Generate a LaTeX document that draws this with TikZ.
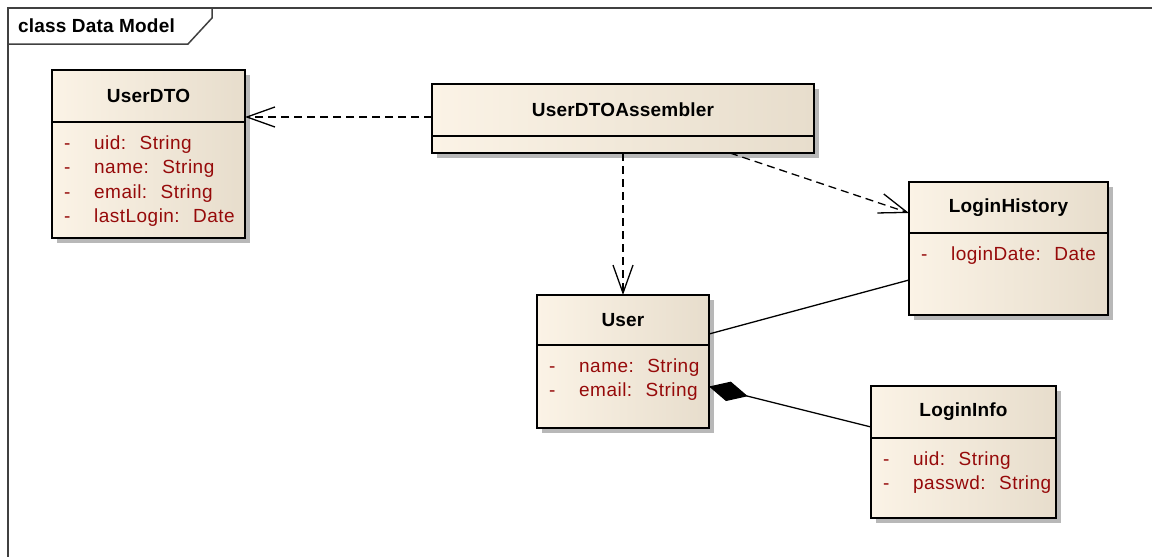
\documentclass[tikz,border=0pt]{standalone}
\usepackage{fontspec}
\setmainfont{Liberation Sans}
\newfontfamily\umlfont[LetterSpace=1]{Liberation Sans}
\newfontfamily\attrfont[LetterSpace=2.5]{Liberation Sans}
\usetikzlibrary{positioning,arrows.meta,shadows}

\definecolor{umlLeft}{RGB}{251,243,230}
\definecolor{umlRight}{RGB}{231,221,204}
\definecolor{attrRed}{RGB}{150,10,10}

\tikzset{
  classbox/.style={draw, line width=1.8pt, left color=umlLeft, right color=umlRight,
    inner sep=0pt, outer sep=0pt,
    drop shadow={shadow xshift=5pt, shadow yshift=-5pt, fill=black!28, opacity=1}},
  classhead/.style={classbox, anchor=north west,
    font=\umlfont\bfseries\fontsize{19}{22}\selectfont},
  classbody/.style={classbox},
  attr/.style={anchor=base west, inner sep=0pt, text=attrRed,
    font=\attrfont\fontsize{19}{22}\selectfont},
  dep/.style={line width=1.3pt, dash pattern=on 8pt off 5pt,
    -{Straight Barb[length=28pt,width=20pt]}},
  assoc/.style={line width=1.3pt}
}

\begin{document}
\begin{tikzpicture}[x=1pt,y=-1pt]
  \useasboundingbox (0,0) rectangle (1152,557);

  % frame
  \draw[line width=1.5pt, black!75] (8,557) -- (8,8) -- (1152,8);
  \draw[line width=1.5pt, black!75] (8,44) -- (188,44) -- (212,18) -- (212,8);
  \node[anchor=west, inner sep=0pt, font=\umlfont\bfseries\fontsize{19}{22}\selectfont]
    (title) at (18,26) {class Data Model};

  % UserDTO
  \node[classhead, minimum width=193pt, minimum height=52pt] (userdtoH) at (52,70) {UserDTO};
  \node[classbody, minimum width=193pt, minimum height=116pt, below=0pt of userdtoH] (userdtoB) {};
  \foreach \a [count=\i] in {uid:~ String, name:~ String, email:~ String, lastLogin:~ Date} {
    \node[attr] (userdtoM\i) at ([shift={(12,{27+24.5*(\i-1)})}]userdtoB.north west) {-};
    \node[attr] (userdtoA\i) at ([shift={(42,{27+24.5*(\i-1)})}]userdtoB.north west) {\a};
  }

  % UserDTOAssembler
  \node[classhead, minimum width=382pt, minimum height=52pt] (asmH) at (432,84) {UserDTOAssembler};
  \node[classbody, minimum width=382pt, minimum height=17pt, below=0pt of asmH] (asmB) {};

  % User
  \node[classhead, minimum width=172pt, minimum height=50pt] (userH) at (537,295) {User};
  \node[classbody, minimum width=172pt, minimum height=83pt, below=0pt of userH] (userB) {};
  \foreach \a [count=\i] in {name:~ String, email:~ String} {
    \node[attr] (userM\i) at ([shift={(12,{27+24.5*(\i-1)})}]userB.north west) {-};
    \node[attr] (userA\i) at ([shift={(42,{27+24.5*(\i-1)})}]userB.north west) {\a};
  }

  % LoginHistory
  \node[classhead, minimum width=199pt, minimum height=51pt] (lhH) at (909,182) {LoginHistory};
  \node[classbody, minimum width=199pt, minimum height=82pt, below=0pt of lhH] (lhB) {};
  \node[attr] (lhM1) at ([shift={(12,27)}]lhB.north west) {-};
  \node[attr] (lhA1) at ([shift={(42,27)}]lhB.north west) {loginDate:~ Date};

  % LoginInfo
  \node[classhead, minimum width=185pt, minimum height=52pt] (liH) at (871,386) {LoginInfo};
  \node[classbody, minimum width=185pt, minimum height=80pt, below=0pt of liH] (liB) {};
  \foreach \a [count=\i] in {uid:~ String, passwd:~ String} {
    \node[attr] (liM\i) at ([shift={(12,{27+24.5*(\i-1)})}]liB.north west) {-};
    \node[attr] (liA\i) at ([shift={(42,{27+24.5*(\i-1)})}]liB.north west) {\a};
  }

  % connectors
  \draw[dep] ([yshift=-7pt]asmH.west) -- ([yshift=-7pt]asmH.west -| userdtoH.east);
  \draw[dep] (asmB.south) -- (userH.north);
  \draw[dep] ([xshift=107pt]asmB.south) -- ([yshift=-5.5pt]lhH.west);
  \draw[assoc] ([yshift=-14pt]userH.east) -- ([yshift=-6pt]lhB.west);
  \draw[assoc, {Diamond[length=40pt,width=20pt]}-] (userB.east) -- ([yshift=-15pt]liH.west);
\end{tikzpicture}
\end{document}
